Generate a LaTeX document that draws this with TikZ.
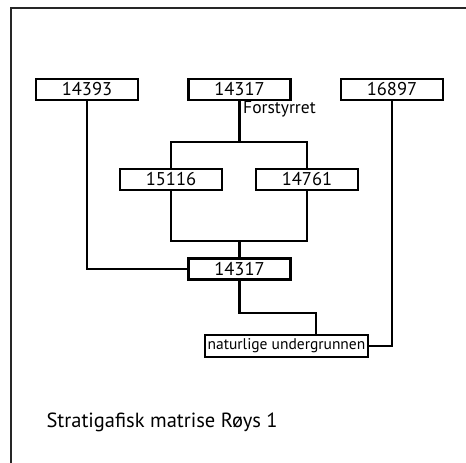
\documentclass[tikz,border=0pt]{standalone}
\usepackage{fontspec}
\setmainfont{PT Sans}
\usetikzlibrary{positioning,calc}
\tikzset{
    unit/.style={rectangle, draw, line width=2.8pt, inner sep=0pt, minimum width=102pt, minimum height=21pt, font=\fontsize{18.5}{18.5}\selectfont},
    ground/.style={rectangle, draw, line width=2.4pt, inner sep=1pt, minimum width=163pt, minimum height=22pt, font=\fontsize{15.5}{15.5}\selectfont},
    link/.style={line width=2.8pt, line join=miter}
}
\begin{document}
\begin{tikzpicture}[x=1pt, y=-1pt]
    \useasboundingbox (0,0) rectangle (466,463);
    \draw[line width=2.4pt, black!85] (11,463) -- (11,8) -- (466,8);

    \node[unit] (u14393) at (87,89.5) {14393};
    \node[unit] (u14317a) at (239.5,89.5) {14317};
    \node[unit] (u16897) at (392,89.5) {16897};
    \node[anchor=west, inner sep=1pt, font=\fontsize{17.5}{17.5}\selectfont] (dist) at (242,109) {Forstyrret};

    \node[unit] (u15116) at (171,179.5) {15116};
    \node[unit] (u14761) at (307,179.5) {14761};

    \node[unit] (u14317b) at (239.5,269) {14317};
    \node[ground] (nat) at (286.5,346) {naturlige undergrunnen};

    \coordinate (split) at (239.5,142);
    \coordinate (merge) at (239.5,241);
    \coordinate (knee) at (316,313);

    \draw[link] (u14317a.south) -- (split);
    \draw[link] (u15116.north) |- (split) -| (u14761.north);
    \draw[link] (u15116.south) |- (merge) -| (u14761.south);
    \draw[link] (merge) -- (u14317b.north);
    \draw[link] (u14393.south) |- (u14317b.west);
    \draw[link] (u14317b.south) |- (knee) -- (knee |- nat.north);
    \draw[link] (u16897.south) |- (nat.east);

    \node[anchor=west, font=\fontsize{20.5}{20.5}\selectfont] (title) at (43,422) {Stratigafisk matrise Røys 1};
\end{tikzpicture}
\end{document}
